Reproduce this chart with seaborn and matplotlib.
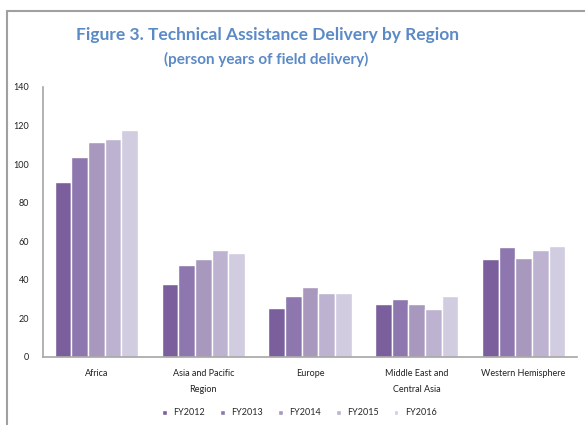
import pandas as pd
import numpy as np
import seaborn as sns
import matplotlib.pyplot as plt
from matplotlib.lines import Line2D

# data
regions = ['Africa', 'Asia and Pacific\nRegion', 'Europe', 'Middle East and\nCentral Asia', 'Western Hemisphere']
years = ['FY2012', 'FY2013', 'FY2014', 'FY2015', 'FY2016']
fy2012 = [90.7, 38.0, 25.4, 27.7, 50.8]
fy2013 = [103.5, 47.5, 31.6, 30.1, 56.9]
fy2014 = [111.5, 50.6, 36.3, 27.7, 51.3]
fy2015 = [112.9, 55.3, 33.2, 24.7, 55.5]
fy2016 = [117.5, 53.8, 33.2, 31.6, 57.7]
colors = ['#7b5f9c', '#8d77ae', '#a898be', '#bdb2cf', '#d2cce0']

df = pd.DataFrame({'Region': regions, 'FY2012': fy2012, 'FY2013': fy2013,
                   'FY2014': fy2014, 'FY2015': fy2015, 'FY2016': fy2016})
df = df.melt(id_vars='Region', var_name='Year', value_name='Value')

sns.set_style('white')
plt.rcParams['font.family'] = ['Lato', 'DejaVu Sans']

fig = plt.figure(figsize=(5.85, 4.25), dpi=100)
ax = fig.add_axes([43/585, 1-357/425, 534/585, 270/425])

sns.barplot(data=df, x='Region', y='Value', hue='Year', hue_order=years,
            palette=colors, width=0.78, saturation=1, ax=ax, legend=True)

ax.set_ylim(0, 140)
ax.set_yticks(np.arange(0, 141, 20))
ax.set_xlabel('')
ax.set_ylabel('')
ax.tick_params(axis='both', length=0, labelsize=6.5, colors='#222222')
ax.tick_params(axis='x', pad=9)
ax.tick_params(axis='y', pad=10)
for lbl in ax.get_xticklabels():
    lbl.set_linespacing(1.9)
for s in ['top', 'right']:
    ax.spines[s].set_visible(False)
for s in ['left', 'bottom']:
    ax.spines[s].set_color('#a6a6a6')
    ax.spines[s].set_linewidth(1.2)

ax.legend(loc='upper center', bbox_to_anchor=(0.48, -0.16), ncol=5, frameon=False,
          fontsize=6.5, handlelength=0.5, handleheight=0.5, handletextpad=0.7,
          columnspacing=1.7)

fig.text(268/585, 1-35/425, 'Figure 3. Technical Assistance Delivery by Region',
         ha='center', va='center', fontsize=12.5, fontweight='bold', color='#5b8ac6')
fig.text(266/585, 1-59/425, '(person years of field delivery)',
         ha='center', va='center', fontsize=11, fontweight='bold', color='#5b8ac6')

# chart frame
fig.add_artist(Line2D([7/585, 7/585], [0, 1-11/425], transform=fig.transFigure,
                      color='#a0a0a0', lw=1.5))
fig.add_artist(Line2D([7/585, 1], [1-11/425, 1-11/425], transform=fig.transFigure,
                      color='#a0a0a0', lw=1.5))

fig.savefig('out.png', dpi=100)
